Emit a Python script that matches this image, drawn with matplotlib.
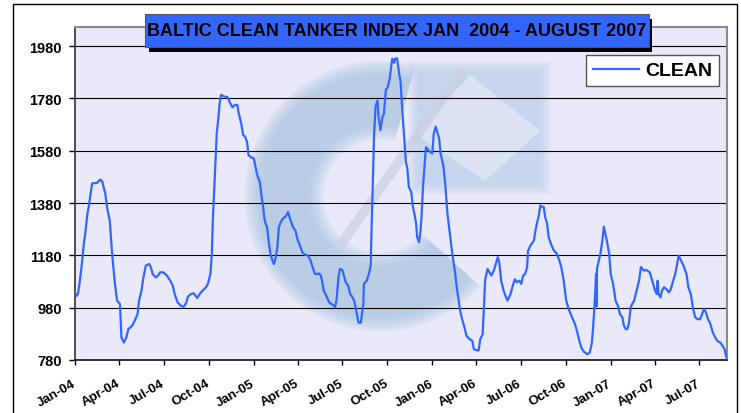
import matplotlib
matplotlib.use('Agg')
import matplotlib.pyplot as plt
import matplotlib.dates as mdates
from matplotlib.patches import Rectangle, Wedge, Polygon
from matplotlib.lines import Line2D
import numpy as np
import pandas as pd

# ---------------- data ----------------
start_date = '2004-01-01'
days_since_start = [
    0, 3, 6, 10, 14, 18, 21, 25, 28, 32, 35, 45, 52, 56, 62, 66, 71, 76, 81, 86,
    92, 95, 100, 105, 109, 117, 122, 128, 131, 136, 140, 145, 152, 155, 159, 165,
    170, 174, 181, 188, 195, 200, 204, 210, 217, 222, 227, 231, 237, 243, 250, 255,
    261, 268, 272, 277, 280, 282, 286, 290, 293, 296, 299, 305, 312, 316, 322, 327,
    332, 335, 340, 344, 348, 352, 355, 361, 366, 370, 373, 378, 381, 385, 387, 390,
    393, 397, 400, 404, 407, 410, 414, 417, 421, 425, 431, 436, 441, 446, 451, 455,
    460, 465, 470, 477, 482, 485, 491, 496, 499, 503, 506, 509, 514, 520, 525, 532,
    535, 539, 542, 547, 554, 559, 563, 567, 571, 574, 578, 580, 585, 587, 590, 591,
    597, 602, 605, 606, 608, 610, 612, 615, 619, 621, 625, 629, 632, 636, 640, 644,
    647, 649, 653, 655, 659, 663, 666, 670, 673, 677, 680, 683, 688, 691, 695, 698,
    700, 704, 707, 709, 712, 715, 718, 722, 726, 731, 734, 738, 741, 745, 748, 754,
    758, 762, 767, 772, 777, 782, 788, 792, 797, 801, 808, 813, 816, 823, 826, 829,
    834, 837, 839, 844, 848, 852, 857, 861, 865, 868, 872, 877, 882, 885, 891, 895,
    900, 904, 909, 913, 917, 921, 925, 927, 932, 939, 942, 945, 949, 952, 956, 959,
    962, 966, 969, 975, 980, 986, 991, 995, 1000, 1005, 1010, 1017, 1023, 1027, 1032,
    1036, 1041, 1048, 1053, 1057, 1059, 1062, 1065, 1066, 1067, 1068, 1075, 1079,
    1082, 1088, 1093, 1096, 1101, 1106, 1111, 1115, 1120, 1123, 1127, 1130, 1133,
    1137, 1140, 1144, 1149, 1154, 1158, 1164, 1169, 1176, 1181, 1186, 1190, 1192,
    1194, 1198, 1201, 1205, 1210, 1215, 1219, 1224, 1228, 1232, 1235, 1240, 1245,
    1251, 1255, 1260, 1264, 1269, 1274, 1279, 1283, 1287, 1291, 1295, 1299, 1305,
    1310, 1314, 1320, 1325, 1329, 1332, 1334,
]
clean_index = [
    1040, 1025, 1032, 1083, 1147, 1224, 1263, 1333, 1365, 1416, 1455, 1457, 1470,
    1461, 1416, 1359, 1314, 1186, 1083, 1007, 994, 866, 847, 866, 898, 911, 930,
    955, 1007, 1045, 1096, 1141, 1147, 1135, 1109, 1096, 1103, 1115, 1115, 1103,
    1083, 1064, 1032, 1000, 987, 983, 996, 1022, 1032, 1035, 1017, 1032, 1045, 1058,
    1071, 1109, 1186, 1314, 1480, 1646, 1698, 1762, 1794, 1787, 1785, 1768, 1746,
    1755, 1755, 1723, 1685, 1640, 1634, 1614, 1563, 1554, 1550, 1512, 1486, 1461,
    1416, 1365, 1327, 1301, 1288, 1224, 1186, 1160, 1147, 1167, 1211, 1288, 1307,
    1320, 1329, 1346, 1314, 1288, 1275, 1243, 1218, 1192, 1183, 1179, 1160, 1141,
    1109, 1109, 1111, 1103, 1077, 1045, 1026, 1000, 994, 983, 1007, 1096, 1128, 1124,
    1077, 1064, 1032, 1022, 1007, 981, 943, 923, 923, 955, 994, 1071, 1083, 1115,
    1141, 1224, 1365, 1518, 1646, 1749, 1772, 1710, 1659, 1710, 1720, 1813, 1823,
    1858, 1903, 1932, 1916, 1932, 1933, 1877, 1845, 1723, 1646, 1537, 1512, 1442,
    1422, 1371, 1333, 1301, 1250, 1230, 1275, 1327, 1442, 1518, 1593, 1585, 1576,
    1570, 1646, 1672, 1653, 1627, 1570, 1518, 1442, 1339, 1263, 1186, 1122, 1045,
    968, 936, 904, 872, 859, 853, 821, 817, 817, 859, 878, 994, 1083, 1128, 1115,
    1103, 1122, 1147, 1173, 1154, 1083, 1045, 1019, 1007, 1032, 1060, 1089, 1077,
    1083, 1071, 1103, 1109, 1135, 1198, 1218, 1237, 1275, 1301, 1333, 1371, 1365,
    1365, 1327, 1301, 1250, 1218, 1198, 1186, 1160, 1135, 1083, 1007, 975, 943, 917,
    891, 853, 827, 812, 802, 808, 840, 878, 960, 1060, 1110, 985, 1130, 1186, 1237,
    1290, 1237, 1186, 1109, 1071, 1007, 987, 955, 943, 911, 898, 898, 917, 981, 994,
    1007, 1045, 1083, 1135, 1122, 1124, 1115, 1083, 1051, 1032, 1083, 1032, 1019,
    1045, 1058, 1051, 1039, 1051, 1083, 1109, 1147, 1179, 1160, 1141, 1109, 1058,
    1032, 981, 943, 936, 936, 955, 975, 962, 936, 923, 885, 866, 853, 847, 834, 821,
    795, 785,
]
y_ticks = [780, 980, 1180, 1380, 1580, 1780, 1980]
x_tick_labels = ['Jan-04', 'Apr-04', 'Jul-04', 'Oct-04', 'Jan-05', 'Apr-05',
                 'Jul-05', 'Oct-05', 'Jan-06', 'Apr-06', 'Jul-06', 'Oct-06',
                 'Jan-07', 'Apr-07', 'Jul-07']
title_text = 'BALTIC CLEAN TANKER INDEX JAN  2004 - AUGUST 2007'
series_name = 'CLEAN'

# ---------------- figure ----------------
plt.rcParams['font.family'] = ['Liberation Sans', 'DejaVu Sans']
W, H = 741, 414
fig = plt.figure(figsize=(W / 100, H / 100), dpi=100)
fig.patch.set_facecolor('white')


def fx(px):
    return px / W


def fy(py):
    return 1 - py / H


def ip(px, py):  # pixel (from top-left) -> inches for dpi_scale_trans
    return (px / 100, (H - py) / 100)


ax_l, ax_r, ax_t, ax_b = 75, 727, 28, 361
ax = fig.add_axes([fx(ax_l), fy(ax_b), (ax_r - ax_l) / W, (ax_b - ax_t) / H])
ax.set_facecolor('#E9E9FA')

dates = pd.Timestamp(start_date) + pd.to_timedelta(days_since_start, unit='D')
blue = '#3366FF'
ax.plot(dates, clean_index, color=blue, lw=1.6, zorder=3, label=series_name)

# faint, soft watermark logo behind the data (layered for a blurred look)
tr = fig.dpi_scale_trans
for k in range(5):
    d = (k - 2) * 0.035
    ax.add_patch(Wedge(ip(380, 197), 1.28 + d, 75, 318, width=0.64 + 2 * d,
                       transform=tr, facecolor='#A9C5E0', edgecolor='none',
                       alpha=0.23, zorder=0.2))
for k in range(4):
    d = (k - 1.5) * 0.03
    ax.add_patch(Rectangle(ip(413 - d * 100, 190 + d * 100), 1.32 + 2 * d,
                           1.23 + 2 * d, transform=tr, facecolor='#B3CBE4',
                           edgecolor='none', alpha=0.22, zorder=0.2))
ax.add_patch(Polygon([ip(415, 135), ip(470, 76), ip(540, 132), ip(485, 182)],
                     closed=True, transform=tr, facecolor='#E3E7F8',
                     edgecolor='none', alpha=0.75, zorder=0.25))
ax.add_line(Line2D([3.40, 4.62], [(H - 247) / 100, (H - 72) / 100], transform=tr,
                   color='#C9CEE2', lw=7, alpha=0.7, zorder=0.26,
                   solid_capstyle='butt'))

# axes limits / ticks
x0 = pd.Timestamp(start_date)
ax.set_xlim(x0, x0 + pd.Timedelta(days=1334))
ax.set_ylim(780, 2053)
ax.set_yticks(y_ticks)
ax.set_yticklabels([str(v) for v in y_ticks], fontsize=10.5, fontweight='bold')
ax.tick_params(axis='y', direction='out', length=4.5, width=1, pad=5, colors='black')
ax.yaxis.grid(True, color='black', lw=0.8)
ax.set_axisbelow(True)
for gl in ax.get_ygridlines():
    gl.set_zorder(1)

tick_dates = pd.date_range('2004-01-01', periods=len(x_tick_labels), freq='QS')
ax.set_xticks(tick_dates)
ax.set_xticklabels([])
ax.tick_params(axis='x', direction='out', length=3.5, width=1, colors='black')
for d, lab in zip(tick_dates, x_tick_labels):
    ax.annotate(lab, xy=(mdates.date2num(d), 0), xycoords=('data', 'axes fraction'),
                xytext=(-3, -17), textcoords='offset pixels', rotation=30,
                rotation_mode='anchor', ha='right', va='top', fontsize=9.5,
                fontweight='bold', annotation_clip=False)

for s in ['top', 'right']:
    ax.spines[s].set_color('#8A8A8A')
    ax.spines[s].set_linewidth(1.5)
ax.spines['left'].set_color('#404040')
ax.spines['left'].set_linewidth(1.3)
ax.spines['bottom'].set_color('#222222')
ax.spines['bottom'].set_linewidth(1.3)

# legend
leg = ax.legend(loc='upper right', bbox_to_anchor=(fx(719), fy(56)),
                bbox_transform=fig.transFigure, borderaxespad=0, frameon=True,
                fancybox=False, edgecolor='#555555', framealpha=1,
                prop={'weight': 'bold', 'size': 14}, handlelength=2.4,
                handletextpad=0.3, borderpad=0.35)
leg.get_frame().set_linewidth(1.0)
leg.set_zorder(5)

# outer chart border
fig.add_artist(Rectangle((fx(12.5), -0.05), (736.5 - 12.5) / W, fy(4.5) + 0.05,
                         transform=fig.transFigure, fill=False, edgecolor='black',
                         lw=1.0, zorder=0))

# title box with drop shadow
fig.add_artist(Rectangle((fx(149), fy(53)), (652 - 149) / W, (53 - 20) / H,
                         transform=fig.transFigure, facecolor='black',
                         edgecolor='none', zorder=6))
fig.add_artist(Rectangle((fx(145), fy(48)), (649 - 145) / W, (48 - 15) / H,
                         transform=fig.transFigure, facecolor=blue,
                         edgecolor='#555555', lw=0.8, zorder=7))
fig.text(fx(397), fy(31.5), title_text, ha='center', va='center', fontsize=13,
         fontweight='bold', color='black', zorder=8)

fig.savefig('out.png', dpi=100)
